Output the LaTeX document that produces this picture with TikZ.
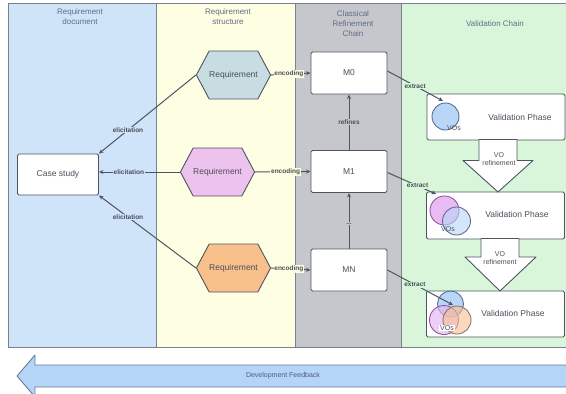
\documentclass[tikz,border=0pt]{standalone}
\usepackage{fontspec}
\setmainfont{Liberation Sans}
\usetikzlibrary{shapes.symbols,arrows.meta}

\definecolor{laneblue}{HTML}{CFE3F9}
\definecolor{laneyellow}{HTML}{FEFEE2}
\definecolor{lanegray}{HTML}{C6C7CD}
\definecolor{lanegreen}{HTML}{D9F6DA}
\definecolor{frame}{HTML}{7A808C}
\definecolor{headtxt}{HTML}{5F6E88}
\definecolor{ink}{HTML}{4A4F5A}
\definecolor{wire}{HTML}{4D5563}
\definecolor{hexteal}{HTML}{C7DDE2}
\definecolor{hexpink}{HTML}{EDC2EF}
\definecolor{hexorange}{HTML}{F8C18C}
\definecolor{vopink}{HTML}{E7B4F1}
\definecolor{voblue}{HTML}{B9D6F7}
\definecolor{voorange}{HTML}{F6C08E}
\definecolor{vobluerim}{HTML}{5A6D9A}
\definecolor{vopinkrim}{HTML}{8A5C9E}
\definecolor{voorangerim}{HTML}{9A7060}
\definecolor{feedback}{HTML}{B4D5F8}
\definecolor{feedbackrim}{HTML}{6A7A92}
\definecolor{feedbacktxt}{HTML}{4E5C74}

\tikzset{
  lane/.style={draw=frame, line width=0.8pt},
  lanehead/.style={text=headtxt, font=\fontsize{8}{10}\selectfont, align=center},
  box/.style={draw=wire, fill=white, line width=0.9pt, rounded corners=1.5pt,
    text=ink, font=\fontsize{8.5}{10}\selectfont},
  hexa/.style={shape=signal, signal to=west and east, signal pointer angle=124,
    draw=wire, line width=0.9pt, minimum width=73pt, minimum height=48pt,
    inner sep=0pt, text=ink, font=\fontsize{8.5}{10}\selectfont},
  conn/.style={draw=wire, line width=1pt, -{Stealth[length=4.5pt,width=4pt]}},
  lbl/.style={font=\bfseries\fontsize{6.5}{7}\selectfont, text=ink, inner sep=0.8pt},
  vo/.style={circle, minimum size=#1, inner sep=0pt, line width=0.9pt},
  downarrow/.style={draw=wire, fill=white, line width=0.9pt, line join=round},
}

\begin{document}
\begin{tikzpicture}[x=1pt, y=-1pt]
\useasboundingbox (0,0) rectangle (566,394);

% swimlanes
\fill[laneblue]   (8,3)   rectangle (156,347);
\fill[laneyellow] (156,3) rectangle (295,347);
\fill[lanegray]   (295,3) rectangle (401,347);
\fill[lanegreen]  (401,3) rectangle (572,347);
\draw[lane] (572,3) -- (8,3) -- (8,347) -- (572,347);
\draw[lane] (156,3) -- (156,347);
\draw[lane] (295,3) -- (295,347);
\draw[lane] (401,3) -- (401,347);

\node[lanehead] (hd1) at (80,17)  {Requirement\\document};
\node[lanehead] (hd2) at (228,17) {Requirement\\structure};
\node[lanehead] (hd3) at (353,24) {Classical\\Refinement\\Chain};
\node[lanehead] (hd4) at (495,24) {Validation Chain};

% requirement document
\node[box, minimum width=81pt, minimum height=41pt] (cs) at (58,174.5) {Case study};

% requirement structure
\node[hexa, fill=hexteal]   (h1) at (233.5,75)  {Requirement};
\node[hexa, fill=hexpink]   (h2) at (217.5,172) {Requirement};
\node[hexa, fill=hexorange] (h3) at (233.5,268) {Requirement};

% refinement chain
\node[box, minimum width=76pt, minimum height=42pt] (m0) at (349,73)  {M0};
\node[box, minimum width=76pt, minimum height=42pt] (m1) at (349,171.5) {M1};
\node[box, minimum width=76pt, minimum height=42pt] (mn) at (349,270) {MN};

% validation chain
\node[box, minimum width=138pt, minimum height=46pt] (v1) at (496,117)   {};
\node[box, minimum width=138pt, minimum height=47pt] (v2) at (495.5,215.5) {};
\node[box, minimum width=138pt, minimum height=46pt] (v3) at (495.5,314) {};
\node[text=ink, font=\fontsize{8.5}{10}\selectfont] (t1) at (520,117) {Validation Phase};
\node[text=ink, font=\fontsize{8.5}{10}\selectfont] (t2) at (517,214) {Validation Phase};
\node[text=ink, font=\fontsize{8.5}{10}\selectfont] (t3) at (513,313) {Validation Phase};

% verification objectives
\node[vo=27pt, fill=voblue, draw=vobluerim] (c1) at (445.5,116.5) {};
\node[font=\fontsize{7}{8}\selectfont, text=ink] (vo1) at (454,128) {VOs};

\node[vo=29pt, fill=vopink, draw=vopinkrim, fill opacity=0.9, draw opacity=1] (c2a) at (444.5,210.5) {};
\node[vo=28pt, fill=voblue, draw=vobluerim, fill opacity=0.6, draw opacity=1] (c2b) at (456.5,221) {};
\node[font=\fontsize{7}{8}\selectfont, text=ink] (vo2) at (448,229) {VOs};

\node[vo=26pt, fill=voblue, draw=vobluerim] (c3a) at (450.5,304) {};
\node[vo=29pt, fill=vopink, draw=vopinkrim, fill opacity=0.65, draw opacity=1] (c3b) at (444,320) {};
\node[vo=28pt, fill=voorange, draw=voorangerim, fill opacity=0.6, draw opacity=1] (c3c) at (457,320) {};
\node[font=\fontsize{7}{8}\selectfont, text=ink, fill=white, inner sep=1pt] (vo3) at (447,328) {VOs};

% VO refinement arrows
\draw[downarrow] (479,139.5) -- (517,139.5) -- (517,160.5) -- (533,160.5) -- (498,192)
  -- (463,160.5) -- (479,160.5) -- cycle;
\node[text=ink, font=\fontsize{7}{8}\selectfont, align=center] (r1) at (499,159) {VO\\refinement};
\draw[downarrow] (481,238.5) -- (519,238.5) -- (519,257) -- (536,257) -- (500,291)
  -- (465,257) -- (481,257) -- cycle;
\node[text=ink, font=\fontsize{7}{8}\selectfont, align=center] (r2) at (500,258) {VO\\refinement};

% elicitation
\draw[conn] (h1.west) -- (cs.north east) node[lbl, fill=laneblue, pos=0.70] {elicitation};
\draw[conn] (h2.west) -- (cs.east |- h2.west) node[lbl, fill=laneblue, pos=0.63] {elicitation};
\draw[conn] (h3.west) -- (cs.south east) node[lbl, fill=laneblue, pos=0.70] {elicitation};

% encoding
\draw[conn] (h1.east) -- (m0.west) node[lbl, fill=laneyellow, pos=0.45] {encoding};
\draw[conn] (h2.east) -- (m1.west) node[lbl, fill=laneyellow, pos=0.55] {encoding};
\draw[conn] (h3.east) -- (mn.west) node[lbl, fill=laneyellow, pos=0.45] {encoding};

% refinement
\draw[conn] (m1.north) -- (m0.south) node[lbl, fill=lanegray, midway] {refines};
\draw[conn] (mn.north) -- (m1.south) node[lbl, fill=lanegray, pos=0.45] {...};

% extraction
\coordinate (e1) at (443,101);
\coordinate (e2) at (436,194);
\coordinate (e3) at (453,305);
\draw[conn] (m0.east) ++(0,-2) -- (e1) node[lbl, fill=lanegreen, pos=0.5] {extract};
\draw[conn] (m1.east) ++(0,1) -- (e2) node[lbl, fill=lanegreen, pos=0.62] {extract};
\draw[conn] (mn.east) -- (e3) node[lbl, fill=lanegreen, pos=0.42] {extract};

% development feedback
\draw[draw=feedbackrim, fill=feedback, line width=0.9pt, line join=round]
  (17,376) -- (35,355) -- (35,365) -- (575,365) -- (575,387) -- (35,387) -- (35,397) -- cycle;
\node[text=feedbacktxt, font=\fontsize{7}{8}\selectfont] (fb) at (283,376) {Development Feedback};
\end{tikzpicture}
\end{document}
